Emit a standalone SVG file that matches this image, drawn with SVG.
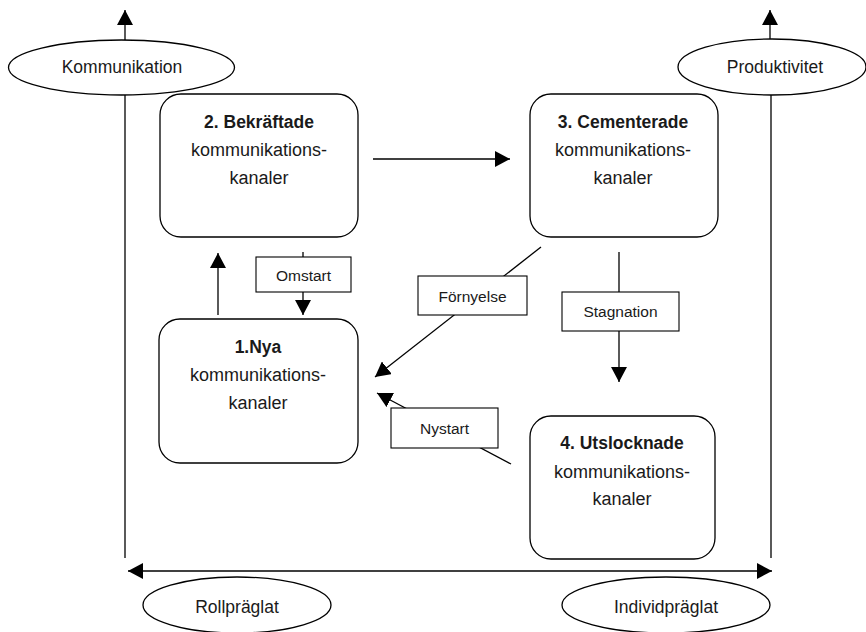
<svg xmlns="http://www.w3.org/2000/svg" width="866" height="632" viewBox="0 0 866 632">
<style>
.n{fill:#fff;stroke:#000;stroke-width:1.3}
.c{fill:none;stroke:#000;stroke-width:1.3}
.l{fill:#fff;stroke:#000;stroke-width:1.1}
text{font-family:"Liberation Sans",Arial,sans-serif;fill:#1a1a1a;text-anchor:middle;dominant-baseline:central}
.t{font-size:18px}
.b{font-size:17.5px;font-weight:bold}
.s{font-size:15.5px}
.e{font-size:17.5px}
</style>
<defs>
<marker id="a" markerUnits="userSpaceOnUse" markerWidth="16" markerHeight="16" refX="15" refY="8" orient="auto-start-reverse" viewBox="0 0 16 16">
<path d="M0,0 L15,8 L0,16 z" fill="#000"/>
</marker>
</defs>
<g id="connectors">
<line class="c" x1="125" y1="40" x2="125" y2="10" marker-end="url(#a)"/>
<line class="c" x1="125" y1="95" x2="125" y2="558"/>
<line class="c" x1="770" y1="39" x2="770" y2="10" marker-end="url(#a)"/>
<line class="c" x1="771" y1="95" x2="771" y2="558"/>
<line class="c" x1="128" y1="571" x2="772" y2="571" marker-start="url(#a)" marker-end="url(#a)"/>
<line class="c" x1="373" y1="159" x2="510" y2="159" marker-end="url(#a)"/>
<line class="c" x1="218" y1="315" x2="218" y2="253" marker-end="url(#a)"/>
<line class="c" x1="303" y1="252" x2="303" y2="315" marker-end="url(#a)"/>
<line class="c" x1="541" y1="247" x2="375" y2="377" marker-end="url(#a)"/>
<line class="c" x1="619" y1="252" x2="619" y2="382" marker-end="url(#a)"/>
<line class="c" x1="511" y1="464" x2="377" y2="393" marker-end="url(#a)"/>
<g id="label-omstart"><rect class="l" x="256" y="257" width="95" height="35"/><text class="s" x="303.5" y="275">Omstart</text></g>
<g id="label-fornyelse"><rect class="l" x="418" y="276" width="109" height="39"/><text class="s" x="472.5" y="296">Förnyelse</text></g>
<g id="label-stagnation"><rect class="l" x="562" y="292" width="117" height="39"/><text class="s" x="620.5" y="311">Stagnation</text></g>
<g id="label-nystart"><rect class="l" x="391" y="408" width="107" height="40"/><text class="s" x="444.5" y="428">Nystart</text></g>
</g>
<g id="kommunikation"><ellipse class="n" cx="121.5" cy="67.5" rx="113" ry="27.5"/><text class="e" x="122" y="67">Kommunikation</text></g>
<g id="produktivitet"><ellipse class="n" cx="772" cy="67" rx="94" ry="28"/><text class="e" x="775" y="67">Produktivitet</text></g>
<g id="rollpraglat"><ellipse class="n" cx="237" cy="605" rx="94" ry="28"/><text class="e" x="237" y="607">Rollpräglat</text></g>
<g id="individpraglat"><ellipse class="n" cx="666" cy="605" rx="104" ry="28"/><text class="e" x="666" y="607">Individpräglat</text></g>
<g id="box2"><rect class="n" x="160" y="94" width="198" height="143" rx="21"/>
<text class="b" x="259" y="122">2. Bekräftade</text><text class="t" x="259" y="150">kommunikations-</text><text class="t" x="259" y="178">kanaler</text></g>
<g id="box3"><rect class="n" x="530" y="94" width="188" height="143" rx="21"/>
<text class="b" x="623" y="122">3. Cementerade</text><text class="t" x="623" y="150">kommunikations-</text><text class="t" x="623" y="178">kanaler</text></g>
<g id="box1"><rect class="n" x="159" y="319" width="199" height="144" rx="21"/>
<text class="b" x="258" y="347">1.Nya</text><text class="t" x="258" y="375">kommunikations-</text><text class="t" x="258" y="403">kanaler</text></g>
<g id="box4"><rect class="n" x="530" y="416" width="185" height="143" rx="21"/>
<text class="b" x="622" y="443">4. Utslocknade</text><text class="t" x="622" y="472">kommunikations-</text><text class="t" x="622" y="499">kanaler</text></g>
</svg>
